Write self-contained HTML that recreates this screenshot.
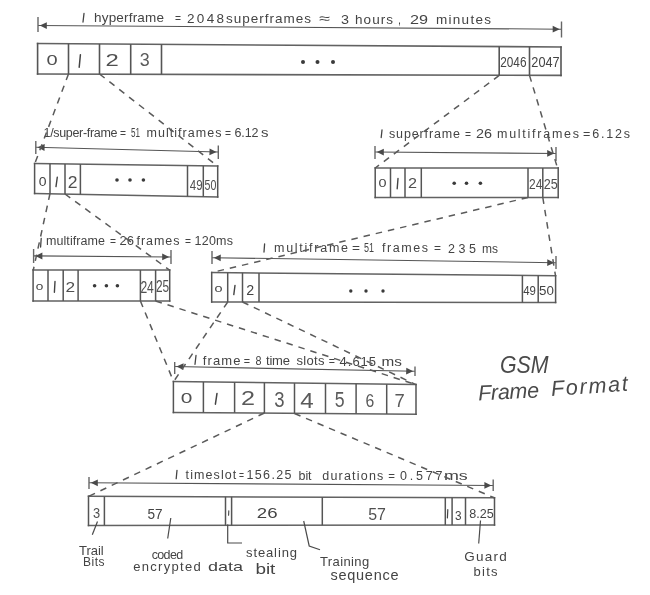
<!DOCTYPE html>
<html><head><meta charset="utf-8"><style>
html,body{margin:0;padding:0;background:#fff;}
body{width:650px;height:595px;overflow:hidden;}
svg{display:block;filter:grayscale(1);}
text{font-family:"Liberation Sans",sans-serif;}
</style></head><body>
<svg width="650" height="595" viewBox="0 0 650 595">
<rect width="650" height="595" fill="#fff"/>
<line x1="84" y1="13.5" x2="83" y2="22" stroke="#444444" stroke-width="1.3" stroke-linecap="round"/>
<text x="94" y="22" font-size="13.5" fill="#444444" font-style="normal" font-weight="normal" text-anchor="start" textLength="70" lengthAdjust="spacing" font-family="Liberation Sans">hyperframe</text>
<text x="175" y="22" font-size="13.5" fill="#444444" font-style="normal" font-weight="normal" text-anchor="start" textLength="6" lengthAdjust="spacingAndGlyphs" font-family="Liberation Sans">=</text>
<text x="187" y="22.5" font-size="13.5" fill="#444444" font-style="normal" font-weight="normal" text-anchor="start" textLength="37" lengthAdjust="spacing" font-family="Liberation Sans">2048</text>
<text x="226" y="22.5" font-size="13.5" fill="#444444" font-style="normal" font-weight="normal" text-anchor="start" textLength="85" lengthAdjust="spacing" font-family="Liberation Sans">superframes</text>
<text x="319" y="23" font-size="13.5" fill="#444444" font-style="normal" font-weight="normal" text-anchor="start" textLength="11" lengthAdjust="spacingAndGlyphs" font-family="Liberation Sans">≈</text>
<text x="341" y="23.5" font-size="13.5" fill="#444444" font-style="normal" font-weight="normal" text-anchor="start" textLength="8" lengthAdjust="spacingAndGlyphs" font-family="Liberation Sans">3</text>
<text x="355" y="23.5" font-size="13.5" fill="#444444" font-style="normal" font-weight="normal" text-anchor="start" textLength="38" lengthAdjust="spacing" font-family="Liberation Sans">hours</text>
<text x="398" y="24" font-size="13.5" fill="#444444" font-style="normal" font-weight="normal" text-anchor="start" textLength="3" lengthAdjust="spacingAndGlyphs" font-family="Liberation Sans">,</text>
<text x="410" y="24" font-size="13.5" fill="#444444" font-style="normal" font-weight="normal" text-anchor="start" textLength="18" lengthAdjust="spacingAndGlyphs" font-family="Liberation Sans">29</text>
<text x="436" y="24" font-size="13.5" fill="#444444" font-style="normal" font-weight="normal" text-anchor="start" textLength="55" lengthAdjust="spacing" font-family="Liberation Sans">minutes</text>
<line x1="38" y1="25.5" x2="561.5" y2="29.2" stroke="#555" stroke-width="1.1"/>
<line x1="38" y1="17" x2="38" y2="32" stroke="#666" stroke-width="1.4"/>
<line x1="561.5" y1="21.5" x2="561.5" y2="37.5" stroke="#666" stroke-width="1.4"/>
<path d="M39.8,25.5 L46.8,22.2 L46.8,29.0 Z" fill="#4a4a4a"/>
<path d="M559.7,29.2 L552.7,32.5 L552.7,25.7 Z" fill="#4a4a4a"/>
<path d="M37.6,43.5 L561,47 M37.6,74 L561,75.4" fill="none" stroke="#626262" stroke-width="1.6" stroke-linecap="square"/>
<path d="M37.6,43.5 L37.6,74 M561,47 L561,75.4" fill="none" stroke="#555555" stroke-width="1.6" stroke-linecap="square"/>
<line x1="68.5" y1="43.71" x2="68.5" y2="74.08" stroke="#555555" stroke-width="1.6"/>
<line x1="99.5" y1="43.91" x2="99.5" y2="74.17" stroke="#555555" stroke-width="1.6"/>
<line x1="130.7" y1="44.12" x2="130.7" y2="74.25" stroke="#555555" stroke-width="1.6"/>
<line x1="161.5" y1="44.33" x2="161.5" y2="74.33" stroke="#555555" stroke-width="1.6"/>
<line x1="499.2" y1="46.59" x2="499.2" y2="75.23" stroke="#555555" stroke-width="1.6"/>
<line x1="529.5" y1="46.79" x2="529.5" y2="75.32" stroke="#555555" stroke-width="1.6"/>
<text x="46.42" y="65.05" font-size="14.83" fill="#505050" font-style="normal" textLength="11.15" lengthAdjust="spacingAndGlyphs" font-family="Liberation Sans">0</text>
<line x1="80.4" y1="54.7" x2="79.2" y2="67.2" stroke="#444444" stroke-width="1.5" stroke-linecap="round"/>
<text x="105.50" y="65.80" font-size="16.62" fill="#505050" font-style="normal" textLength="13.29" lengthAdjust="spacingAndGlyphs" font-family="Liberation Sans">2</text>
<text x="139.82" y="66.32" font-size="18.36" fill="#5a5a5a" font-style="normal" textLength="9.95" lengthAdjust="spacingAndGlyphs" font-family="Liberation Sans">3</text>
<text x="500.21" y="66.86" font-size="14.12" fill="#444" font-style="normal" textLength="26.31" lengthAdjust="spacingAndGlyphs" font-family="Liberation Sans">2046</text>
<text x="531.36" y="66.86" font-size="14.12" fill="#444" font-style="normal" textLength="28.28" lengthAdjust="spacingAndGlyphs" font-family="Liberation Sans">2047</text>
<circle cx="303" cy="62" r="2" fill="#3a3a3a"/>
<circle cx="317.5" cy="62" r="2" fill="#3a3a3a"/>
<circle cx="333" cy="62" r="2" fill="#3a3a3a"/>
<text x="43.5" y="137" font-size="12.5" fill="#444444" font-style="normal" font-weight="normal" text-anchor="start" textLength="74" lengthAdjust="spacing" font-family="Liberation Sans">1/super-frame</text>
<text x="120" y="137" font-size="12.5" fill="#444444" font-style="normal" font-weight="normal" text-anchor="start" textLength="6" lengthAdjust="spacingAndGlyphs" font-family="Liberation Sans">=</text>
<text x="131" y="137" font-size="12.5" fill="#444444" font-style="normal" font-weight="normal" text-anchor="start" textLength="9" lengthAdjust="spacingAndGlyphs" font-family="Liberation Sans">51</text>
<text x="146.5" y="137" font-size="12.5" fill="#444444" font-style="normal" font-weight="normal" text-anchor="start" textLength="75" lengthAdjust="spacing" font-family="Liberation Sans">multiframes</text>
<text x="225" y="137" font-size="12.5" fill="#444444" font-style="normal" font-weight="normal" text-anchor="start" textLength="6" lengthAdjust="spacingAndGlyphs" font-family="Liberation Sans">=</text>
<text x="234.5" y="137" font-size="12.5" fill="#444444" font-style="normal" font-weight="normal" text-anchor="start" textLength="24" lengthAdjust="spacing" font-family="Liberation Sans">6.12</text>
<text x="261" y="137" font-size="12.5" fill="#444444" font-style="normal" font-weight="normal" text-anchor="start" textLength="7.5" lengthAdjust="spacingAndGlyphs" font-family="Liberation Sans">s</text>
<line x1="35.8" y1="147.3" x2="218.3" y2="152" stroke="#555" stroke-width="1.1"/>
<line x1="35.8" y1="141" x2="35.8" y2="154" stroke="#666" stroke-width="1.4"/>
<line x1="218.3" y1="145.5" x2="218.3" y2="159" stroke="#666" stroke-width="1.4"/>
<path d="M37.6,147.3 L44.7,144.1 L44.5,150.9 Z" fill="#4a4a4a"/>
<path d="M216.5,152.0 L209.4,155.2 L209.6,148.4 Z" fill="#4a4a4a"/>
<path d="M34.6,163.6 L217.7,166.1 M34.6,193.4 L217.7,196.9" fill="none" stroke="#626262" stroke-width="1.5" stroke-linecap="square"/>
<path d="M34.6,163.6 L34.6,193.4 M217.7,166.1 L217.7,196.9" fill="none" stroke="#555555" stroke-width="1.5" stroke-linecap="square"/>
<line x1="50" y1="163.81" x2="50" y2="193.69" stroke="#555555" stroke-width="1.5"/>
<line x1="65" y1="164.02" x2="65" y2="193.98" stroke="#555555" stroke-width="1.5"/>
<line x1="80.4" y1="164.23" x2="80.4" y2="194.28" stroke="#555555" stroke-width="1.5"/>
<line x1="187.5" y1="165.69" x2="187.5" y2="196.32" stroke="#555555" stroke-width="1.5"/>
<line x1="203.3" y1="165.9" x2="203.3" y2="196.62" stroke="#555555" stroke-width="1.5"/>
<text x="38.65" y="186.27" font-size="13.28" fill="#444" font-style="normal" textLength="7.78" lengthAdjust="spacingAndGlyphs" font-family="Liberation Sans">0</text>
<line x1="57.3" y1="177.2" x2="56" y2="186.6" stroke="#444444" stroke-width="1.4" stroke-linecap="round"/>
<text x="67.82" y="187.60" font-size="15.90" fill="#505050" font-style="normal" textLength="9.76" lengthAdjust="spacingAndGlyphs" font-family="Liberation Sans">2</text>
<text x="189.75" y="190.35" font-size="14.83" fill="#505050" font-style="normal" textLength="12.80" lengthAdjust="spacingAndGlyphs" font-family="Liberation Sans">49</text>
<text x="204.57" y="190.35" font-size="14.83" fill="#505050" font-style="normal" textLength="11.83" lengthAdjust="spacingAndGlyphs" font-family="Liberation Sans">50</text>
<circle cx="117" cy="180" r="1.8" fill="#3a3a3a"/>
<circle cx="130" cy="180" r="1.8" fill="#3a3a3a"/>
<circle cx="143.4" cy="180" r="1.8" fill="#3a3a3a"/>
<line x1="382" y1="130" x2="381.2" y2="137.5" stroke="#444444" stroke-width="1.3" stroke-linecap="round"/>
<text x="389" y="137.5" font-size="12.5" fill="#444444" font-style="normal" font-weight="normal" text-anchor="start" textLength="71" lengthAdjust="spacing" font-family="Liberation Sans">superframe</text>
<text x="465" y="137.5" font-size="12.5" fill="#444444" font-style="normal" font-weight="normal" text-anchor="start" textLength="6" lengthAdjust="spacingAndGlyphs" font-family="Liberation Sans">=</text>
<text x="476" y="137.5" font-size="12.5" fill="#444444" font-style="normal" font-weight="normal" text-anchor="start" textLength="16" lengthAdjust="spacingAndGlyphs" font-family="Liberation Sans">26</text>
<text x="497" y="137.5" font-size="12.5" fill="#444444" font-style="normal" font-weight="normal" text-anchor="start" textLength="82" lengthAdjust="spacing" font-family="Liberation Sans">multiframes</text>
<text x="583" y="137.5" font-size="12.5" fill="#444444" font-style="normal" font-weight="normal" text-anchor="start" textLength="47" lengthAdjust="spacing" font-family="Liberation Sans">=6.12s</text>
<line x1="375" y1="152" x2="556" y2="153.5" stroke="#555" stroke-width="1.1"/>
<line x1="375" y1="146" x2="375" y2="159" stroke="#666" stroke-width="1.4"/>
<line x1="556" y1="147" x2="556" y2="161" stroke="#666" stroke-width="1.4"/>
<path d="M376.8,152.0 L383.8,148.7 L383.8,155.5 Z" fill="#4a4a4a"/>
<path d="M554.2,153.5 L547.2,156.8 L547.2,150.0 Z" fill="#4a4a4a"/>
<path d="M375.2,167.9 L558.2,168 M375.2,197.5 L558.2,197.5" fill="none" stroke="#626262" stroke-width="1.5" stroke-linecap="square"/>
<path d="M375.2,167.9 L375.2,197.5 M558.2,168 L558.2,197.5" fill="none" stroke="#555555" stroke-width="1.5" stroke-linecap="square"/>
<line x1="390.5" y1="167.91" x2="390.5" y2="197.5" stroke="#555555" stroke-width="1.5"/>
<line x1="405" y1="167.92" x2="405" y2="197.5" stroke="#555555" stroke-width="1.5"/>
<line x1="421.3" y1="167.93" x2="421.3" y2="197.5" stroke="#555555" stroke-width="1.5"/>
<line x1="528" y1="167.98" x2="528" y2="197.5" stroke="#555555" stroke-width="1.5"/>
<line x1="542.8" y1="167.99" x2="542.8" y2="197.5" stroke="#555555" stroke-width="1.5"/>
<text x="378.44" y="187.39" font-size="11.44" fill="#444" font-style="normal" textLength="8.01" lengthAdjust="spacingAndGlyphs" font-family="Liberation Sans">0</text>
<line x1="398" y1="178.5" x2="397.2" y2="188.8" stroke="#444444" stroke-width="1.4" stroke-linecap="round"/>
<text x="407.99" y="188.20" font-size="15.33" fill="#505050" font-style="normal" textLength="9.03" lengthAdjust="spacingAndGlyphs" font-family="Liberation Sans">2</text>
<text x="529.00" y="188.80" font-size="15.47" fill="#505050" font-style="normal" textLength="13.35" lengthAdjust="spacingAndGlyphs" font-family="Liberation Sans">24</text>
<text x="543.77" y="188.65" font-size="15.25" fill="#505050" font-style="normal" textLength="14.05" lengthAdjust="spacingAndGlyphs" font-family="Liberation Sans">25</text>
<circle cx="454.2" cy="183.3" r="1.8" fill="#3a3a3a"/>
<circle cx="466.5" cy="183.3" r="1.8" fill="#3a3a3a"/>
<circle cx="480.4" cy="183.3" r="1.8" fill="#3a3a3a"/>
<line x1="41.2" y1="238.5" x2="40.6" y2="247" stroke="#444444" stroke-width="1.3" stroke-linecap="round"/>
<text x="46" y="245" font-size="12.5" fill="#444444" font-style="normal" font-weight="normal" text-anchor="start" textLength="59" lengthAdjust="spacing" font-family="Liberation Sans">multiframe</text>
<text x="110" y="245" font-size="12.5" fill="#444444" font-style="normal" font-weight="normal" text-anchor="start" textLength="6" lengthAdjust="spacingAndGlyphs" font-family="Liberation Sans">=</text>
<text x="119.5" y="244.5" font-size="12.5" fill="#444444" font-style="normal" font-weight="normal" text-anchor="start" textLength="14.5" lengthAdjust="spacingAndGlyphs" font-family="Liberation Sans">26</text>
<text x="136.5" y="244.5" font-size="12.5" fill="#444444" font-style="normal" font-weight="normal" text-anchor="start" textLength="43" lengthAdjust="spacing" font-family="Liberation Sans">frames</text>
<text x="185" y="244.5" font-size="12.5" fill="#444444" font-style="normal" font-weight="normal" text-anchor="start" textLength="6" lengthAdjust="spacingAndGlyphs" font-family="Liberation Sans">=</text>
<text x="194.5" y="244.5" font-size="12.5" fill="#444444" font-style="normal" font-weight="normal" text-anchor="start" textLength="38.5" lengthAdjust="spacing" font-family="Liberation Sans">120ms</text>
<line x1="33.6" y1="255.9" x2="171" y2="257" stroke="#555" stroke-width="1.1"/>
<line x1="33.6" y1="249" x2="33.6" y2="263" stroke="#666" stroke-width="1.4"/>
<line x1="171" y1="250" x2="171" y2="264" stroke="#666" stroke-width="1.4"/>
<path d="M35.4,255.9 L42.4,252.6 L42.4,259.4 Z" fill="#4a4a4a"/>
<path d="M169.2,257.0 L162.2,260.3 L162.2,253.5 Z" fill="#4a4a4a"/>
<path d="M33.1,270 L169.7,270 M33.1,300.9 L169.7,300.9" fill="none" stroke="#626262" stroke-width="1.5" stroke-linecap="square"/>
<path d="M33.1,270 L33.1,300.9 M169.7,270 L169.7,300.9" fill="none" stroke="#555555" stroke-width="1.5" stroke-linecap="square"/>
<line x1="48" y1="270.0" x2="48" y2="300.9" stroke="#555555" stroke-width="1.5"/>
<line x1="63.2" y1="270.0" x2="63.2" y2="300.9" stroke="#555555" stroke-width="1.5"/>
<line x1="78.1" y1="270.0" x2="78.1" y2="300.9" stroke="#555555" stroke-width="1.5"/>
<line x1="140.4" y1="270.0" x2="140.4" y2="300.9" stroke="#555555" stroke-width="1.5"/>
<line x1="155.6" y1="270.0" x2="155.6" y2="300.9" stroke="#555555" stroke-width="1.5"/>
<text x="35.77" y="289.90" font-size="9.89" fill="#444" font-style="normal" textLength="7.55" lengthAdjust="spacingAndGlyphs" font-family="Liberation Sans">0</text>
<line x1="55" y1="281.5" x2="54.4" y2="292.3" stroke="#444444" stroke-width="1.4" stroke-linecap="round"/>
<text x="65.43" y="292.00" font-size="15.47" fill="#505050" font-style="normal" textLength="9.64" lengthAdjust="spacingAndGlyphs" font-family="Liberation Sans">2</text>
<text x="140.39" y="292.50" font-size="16.05" fill="#505050" font-style="normal" textLength="13.46" lengthAdjust="spacingAndGlyphs" font-family="Liberation Sans">24</text>
<text x="156.01" y="292.34" font-size="15.82" fill="#505050" font-style="normal" textLength="13.18" lengthAdjust="spacingAndGlyphs" font-family="Liberation Sans">25</text>
<circle cx="94.6" cy="285.7" r="1.8" fill="#3a3a3a"/>
<circle cx="106.4" cy="285.7" r="1.8" fill="#3a3a3a"/>
<circle cx="117.4" cy="285.7" r="1.8" fill="#3a3a3a"/>
<line x1="264.6" y1="244" x2="264" y2="252" stroke="#444444" stroke-width="1.3" stroke-linecap="round"/>
<text x="274" y="252" font-size="12.5" fill="#444444" font-style="normal" font-weight="normal" text-anchor="start" textLength="74" lengthAdjust="spacing" font-family="Liberation Sans">multiframe</text>
<text x="352" y="252" font-size="12.5" fill="#444444" font-style="normal" font-weight="normal" text-anchor="start" textLength="8" lengthAdjust="spacingAndGlyphs" font-family="Liberation Sans">=</text>
<text x="364" y="252" font-size="12.5" fill="#444444" font-style="normal" font-weight="normal" text-anchor="start" textLength="10" lengthAdjust="spacingAndGlyphs" font-family="Liberation Sans">51</text>
<text x="382" y="252" font-size="12.5" fill="#444444" font-style="normal" font-weight="normal" text-anchor="start" textLength="46" lengthAdjust="spacing" font-family="Liberation Sans">frames</text>
<text x="434" y="252" font-size="12.5" fill="#444444" font-style="normal" font-weight="normal" text-anchor="start" textLength="7" lengthAdjust="spacingAndGlyphs" font-family="Liberation Sans">=</text>
<text x="448" y="252.5" font-size="12.5" fill="#444444" font-style="normal" font-weight="normal" text-anchor="start" textLength="28" lengthAdjust="spacing" font-family="Liberation Sans">235</text>
<text x="482" y="252.5" font-size="12.5" fill="#444444" font-style="normal" font-weight="normal" text-anchor="start" textLength="16" lengthAdjust="spacingAndGlyphs" font-family="Liberation Sans">ms</text>
<line x1="212" y1="257.7" x2="556" y2="262.7" stroke="#555" stroke-width="1.1"/>
<line x1="212" y1="251" x2="212" y2="264" stroke="#666" stroke-width="1.4"/>
<line x1="556" y1="256" x2="556" y2="269" stroke="#666" stroke-width="1.4"/>
<path d="M213.8,257.7 L220.8,254.4 L220.7,261.2 Z" fill="#4a4a4a"/>
<path d="M554.2,262.7 L547.2,266.0 L547.3,259.2 Z" fill="#4a4a4a"/>
<path d="M211.7,272.5 L555.6,275.7 M211.7,302 L555.6,302.6" fill="none" stroke="#626262" stroke-width="1.5" stroke-linecap="square"/>
<path d="M211.7,272.5 L211.7,302 M555.6,275.7 L555.6,302.6" fill="none" stroke="#555555" stroke-width="1.5" stroke-linecap="square"/>
<line x1="227.7" y1="272.65" x2="227.7" y2="302.03" stroke="#555555" stroke-width="1.5"/>
<line x1="242.5" y1="272.79" x2="242.5" y2="302.05" stroke="#555555" stroke-width="1.5"/>
<line x1="259" y1="272.94" x2="259" y2="302.08" stroke="#555555" stroke-width="1.5"/>
<line x1="522.4" y1="275.39" x2="522.4" y2="302.54" stroke="#555555" stroke-width="1.5"/>
<line x1="538.2" y1="275.54" x2="538.2" y2="302.57" stroke="#555555" stroke-width="1.5"/>
<text x="214.64" y="291.70" font-size="9.75" fill="#444" font-style="normal" textLength="8.01" lengthAdjust="spacingAndGlyphs" font-family="Liberation Sans">0</text>
<line x1="235" y1="285.4" x2="233.8" y2="294.6" stroke="#444444" stroke-width="1.4" stroke-linecap="round"/>
<text x="246.29" y="294.50" font-size="14.47" fill="#444" font-style="normal" textLength="7.93" lengthAdjust="spacingAndGlyphs" font-family="Liberation Sans">2</text>
<text x="523.25" y="294.86" font-size="13.56" fill="#444" font-style="normal" textLength="12.69" lengthAdjust="spacingAndGlyphs" font-family="Liberation Sans">49</text>
<text x="539.07" y="294.86" font-size="13.56" fill="#444" font-style="normal" textLength="14.85" lengthAdjust="spacingAndGlyphs" font-family="Liberation Sans">50</text>
<circle cx="350.8" cy="291" r="1.7" fill="#3a3a3a"/>
<circle cx="366" cy="291" r="1.7" fill="#3a3a3a"/>
<circle cx="383" cy="291" r="1.7" fill="#3a3a3a"/>
<line x1="196" y1="355.5" x2="195" y2="364.3" stroke="#444444" stroke-width="1.3" stroke-linecap="round"/>
<text x="202.7" y="364.5" font-size="13" fill="#444444" font-style="normal" font-weight="normal" text-anchor="start" textLength="37.7" lengthAdjust="spacing" font-family="Liberation Sans">frame</text>
<text x="243.7" y="364.5" font-size="13" fill="#444444" font-style="normal" font-weight="normal" text-anchor="start" textLength="6.3" lengthAdjust="spacingAndGlyphs" font-family="Liberation Sans">=</text>
<text x="255.5" y="364.5" font-size="13" fill="#444444" font-style="normal" font-weight="normal" text-anchor="start" textLength="6" lengthAdjust="spacingAndGlyphs" font-family="Liberation Sans">8</text>
<text x="266" y="364.5" font-size="13" fill="#444444" font-style="normal" font-weight="normal" text-anchor="start" textLength="24" lengthAdjust="spacing" font-family="Liberation Sans">time</text>
<text x="296.5" y="365" font-size="13" fill="#444444" font-style="normal" font-weight="normal" text-anchor="start" textLength="28" lengthAdjust="spacing" font-family="Liberation Sans">slots</text>
<text x="328.8" y="365" font-size="13" fill="#444444" font-style="normal" font-weight="normal" text-anchor="start" textLength="6.2" lengthAdjust="spacingAndGlyphs" font-family="Liberation Sans">=</text>
<text x="339.6" y="365.5" font-size="13" fill="#444444" font-style="normal" font-weight="normal" text-anchor="start" textLength="36.4" lengthAdjust="spacing" font-family="Liberation Sans">4.615</text>
<text x="381.6" y="365.5" font-size="13" fill="#444444" font-style="normal" font-weight="normal" text-anchor="start" textLength="20.4" lengthAdjust="spacingAndGlyphs" font-family="Liberation Sans">ms</text>
<line x1="174.7" y1="366.5" x2="415" y2="371.3" stroke="#555" stroke-width="1.1"/>
<line x1="174.7" y1="362" x2="174.7" y2="374" stroke="#666" stroke-width="1.4"/>
<line x1="415" y1="366.5" x2="415" y2="376" stroke="#666" stroke-width="1.4"/>
<path d="M176.5,366.5 L183.6,363.3 L183.4,370.1 Z" fill="#4a4a4a"/>
<path d="M413.2,371.3 L406.1,374.5 L406.3,367.7 Z" fill="#4a4a4a"/>
<path d="M173.4,381.6 L416,384.6 M173.4,412.4 L416,414.2" fill="none" stroke="#626262" stroke-width="1.5" stroke-linecap="square"/>
<path d="M173.4,381.6 L173.4,412.4 M416,384.6 L416,414.2" fill="none" stroke="#555555" stroke-width="1.5" stroke-linecap="square"/>
<line x1="203.4" y1="381.97" x2="203.4" y2="412.62" stroke="#555555" stroke-width="1.5"/>
<line x1="234.6" y1="382.36" x2="234.6" y2="412.85" stroke="#555555" stroke-width="1.5"/>
<line x1="264.4" y1="382.73" x2="264.4" y2="413.08" stroke="#555555" stroke-width="1.5"/>
<line x1="294.5" y1="383.1" x2="294.5" y2="413.3" stroke="#555555" stroke-width="1.5"/>
<line x1="325.5" y1="383.48" x2="325.5" y2="413.53" stroke="#555555" stroke-width="1.5"/>
<line x1="356.1" y1="383.86" x2="356.1" y2="413.76" stroke="#555555" stroke-width="1.5"/>
<line x1="386.7" y1="384.24" x2="386.7" y2="413.98" stroke="#555555" stroke-width="1.5"/>
<line x1="217" y1="393.4" x2="215.4" y2="404.2" stroke="#444444" stroke-width="1.5" stroke-linecap="round"/>
<text x="180.69" y="403.25" font-size="15.25" fill="#505050" font-style="normal" textLength="11.61" lengthAdjust="spacingAndGlyphs" font-family="Liberation Sans">0</text>
<text x="241.04" y="405.40" font-size="19.91" fill="#5a5a5a" font-style="normal" textLength="14.03" lengthAdjust="spacingAndGlyphs" font-family="Liberation Sans">2</text>
<text x="274.30" y="406.98" font-size="22.18" fill="#5a5a5a" font-style="normal" textLength="10.30" lengthAdjust="spacingAndGlyphs" font-family="Liberation Sans">3</text>
<text x="300.27" y="408.00" font-size="21.22" fill="#5a5a5a" font-style="normal" textLength="13.44" lengthAdjust="spacingAndGlyphs" font-family="Liberation Sans">4</text>
<text x="334.69" y="407.29" font-size="21.35" fill="#5a5a5a" font-style="normal" textLength="9.84" lengthAdjust="spacingAndGlyphs" font-family="Liberation Sans">5</text>
<text x="365.41" y="407.32" font-size="17.66" fill="#5a5a5a" font-style="normal" textLength="8.77" lengthAdjust="spacingAndGlyphs" font-family="Liberation Sans">6</text>
<text x="394.46" y="407.00" font-size="17.44" fill="#5a5a5a" font-style="normal" textLength="10.27" lengthAdjust="spacingAndGlyphs" font-family="Liberation Sans">7</text>
<line x1="177" y1="470.3" x2="176.2" y2="478.7" stroke="#444444" stroke-width="1.3" stroke-linecap="round"/>
<text x="185.6" y="479" font-size="12.5" fill="#444444" font-style="normal" font-weight="normal" text-anchor="start" textLength="50.7" lengthAdjust="spacing" font-family="Liberation Sans">timeslot</text>
<text x="239" y="479" font-size="12.5" fill="#444444" font-style="normal" font-weight="normal" text-anchor="start" textLength="5" lengthAdjust="spacingAndGlyphs" font-family="Liberation Sans">=</text>
<text x="246.5" y="479" font-size="12.5" fill="#444444" font-style="normal" font-weight="normal" text-anchor="start" textLength="45" lengthAdjust="spacing" font-family="Liberation Sans">156.25</text>
<text x="298.6" y="479.5" font-size="12.5" fill="#444444" font-style="normal" font-weight="normal" text-anchor="start" textLength="13" lengthAdjust="spacing" font-family="Liberation Sans">bit</text>
<text x="322.3" y="479.5" font-size="12.5" fill="#444444" font-style="normal" font-weight="normal" text-anchor="start" textLength="61" lengthAdjust="spacing" font-family="Liberation Sans">durations</text>
<text x="388.3" y="479.5" font-size="12.5" fill="#444444" font-style="normal" font-weight="normal" text-anchor="start" textLength="6.7" lengthAdjust="spacingAndGlyphs" font-family="Liberation Sans">=</text>
<text x="400" y="480" font-size="12.5" fill="#444444" font-style="normal" font-weight="normal" text-anchor="start" textLength="42.4" lengthAdjust="spacing" font-family="Liberation Sans">0.577</text>
<text x="444" y="480" font-size="12.5" fill="#444444" font-style="normal" font-weight="normal" text-anchor="start" textLength="23.8" lengthAdjust="spacingAndGlyphs" font-family="Liberation Sans">ms</text>
<line x1="89" y1="482.7" x2="493.2" y2="485.5" stroke="#555" stroke-width="1.1"/>
<line x1="89" y1="477" x2="89" y2="489" stroke="#666" stroke-width="1.4"/>
<line x1="493.2" y1="479.5" x2="493.2" y2="491" stroke="#666" stroke-width="1.4"/>
<path d="M90.8,482.7 L97.8,479.4 L97.8,486.2 Z" fill="#4a4a4a"/>
<path d="M491.4,485.5 L484.4,488.8 L484.4,482.0 Z" fill="#4a4a4a"/>
<path d="M88.5,496.3 L494.5,497.8 M88.5,525.4 L494.5,525" fill="none" stroke="#626262" stroke-width="1.5" stroke-linecap="square"/>
<path d="M88.5,496.3 L88.5,525.4 M494.5,497.8 L494.5,525" fill="none" stroke="#555555" stroke-width="1.5" stroke-linecap="square"/>
<line x1="104.4" y1="496.36" x2="104.4" y2="525.38" stroke="#555555" stroke-width="1.5"/>
<line x1="225.5" y1="496.81" x2="225.5" y2="525.27" stroke="#555555" stroke-width="1.5"/>
<line x1="231.6" y1="496.83" x2="231.6" y2="525.26" stroke="#555555" stroke-width="1.5"/>
<line x1="322.3" y1="497.16" x2="322.3" y2="525.17" stroke="#555555" stroke-width="1.5"/>
<line x1="445.3" y1="497.62" x2="445.3" y2="525.05" stroke="#555555" stroke-width="1.5"/>
<line x1="452.1" y1="497.64" x2="452.1" y2="525.04" stroke="#555555" stroke-width="1.5"/>
<line x1="465.5" y1="497.69" x2="465.5" y2="525.03" stroke="#555555" stroke-width="1.5"/>
<text x="93.01" y="518.35" font-size="15.25" fill="#505050" font-style="normal" textLength="7.14" lengthAdjust="spacingAndGlyphs" font-family="Liberation Sans">3</text>
<text x="147.46" y="519.06" font-size="14.33" fill="#444" font-style="normal" textLength="15.13" lengthAdjust="spacingAndGlyphs" font-family="Liberation Sans">57</text>
<line x1="228.8" y1="510.7" x2="228.6" y2="515.2" stroke="#444444" stroke-width="1.1" stroke-linecap="round"/>
<text x="256.87" y="517.86" font-size="14.12" fill="#444" font-style="normal" textLength="20.74" lengthAdjust="spacingAndGlyphs" font-family="Liberation Sans">26</text>
<text x="368.16" y="519.94" font-size="15.90" fill="#505050" font-style="normal" textLength="17.74" lengthAdjust="spacingAndGlyphs" font-family="Liberation Sans">57</text>
<line x1="447.8" y1="509.6" x2="447.4" y2="517.9" stroke="#444444" stroke-width="1.2" stroke-linecap="round"/>
<text x="454.95" y="519.56" font-size="13.70" fill="#444" font-style="normal" textLength="6.56" lengthAdjust="spacingAndGlyphs" font-family="Liberation Sans">3</text>
<text x="469.36" y="517.77" font-size="12.57" fill="#444" font-style="normal" textLength="24.46" lengthAdjust="spacingAndGlyphs" font-family="Liberation Sans">8.25</text>
<path d="M97.5,521.5 L92.3,534.8" fill="none" stroke="#4a4a4a" stroke-width="1.2"/>
<path d="M170.8,518 L167.7,538.5" fill="none" stroke="#4a4a4a" stroke-width="1.2"/>
<path d="M227.7,524.6 L227.7,543 L242,543" fill="none" stroke="#4a4a4a" stroke-width="1.2"/>
<path d="M303.7,521 L309.2,546 L320,549.8" fill="none" stroke="#4a4a4a" stroke-width="1.2"/>
<path d="M480.5,520.5 L478.7,543.5" fill="none" stroke="#4a4a4a" stroke-width="1.2"/>
<text x="79" y="554.5" font-size="13" fill="#444444" font-style="normal" font-weight="normal" text-anchor="start" textLength="24.7" lengthAdjust="spacing" font-family="Liberation Sans">Trail</text>
<text x="83" y="566" font-size="12" fill="#444444" font-style="normal" font-weight="normal" text-anchor="start" textLength="21.6" lengthAdjust="spacing" font-family="Liberation Sans">Bits</text>
<text x="151.7" y="558.5" font-size="12.5" fill="#444444" font-style="normal" font-weight="normal" text-anchor="start" textLength="31.5" lengthAdjust="spacing" font-family="Liberation Sans">coded</text>
<text x="133.3" y="571.4" font-size="13" fill="#444444" font-style="normal" font-weight="normal" text-anchor="start" textLength="67.4" lengthAdjust="spacing" font-family="Liberation Sans">encrypted</text>
<text x="208" y="571.4" font-size="13.5" fill="#444444" font-style="normal" font-weight="normal" text-anchor="start" textLength="35" lengthAdjust="spacingAndGlyphs" font-family="Liberation Sans">data</text>
<text x="246" y="556.5" font-size="13" fill="#444444" font-style="normal" font-weight="normal" text-anchor="start" textLength="51" lengthAdjust="spacing" font-family="Liberation Sans">stealing</text>
<text x="255.4" y="573.5" font-size="14.5" fill="#444444" font-style="normal" font-weight="normal" text-anchor="start" textLength="20" lengthAdjust="spacingAndGlyphs" font-family="Liberation Sans">bit</text>
<text x="320" y="565.8" font-size="13" fill="#444444" font-style="normal" font-weight="normal" text-anchor="start" textLength="49.2" lengthAdjust="spacing" font-family="Liberation Sans">Training</text>
<text x="330.5" y="580.4" font-size="14.5" fill="#444444" font-style="normal" font-weight="normal" text-anchor="start" textLength="68" lengthAdjust="spacing" font-family="Liberation Sans">sequence</text>
<text x="464.3" y="561" font-size="13.5" fill="#444444" font-style="normal" font-weight="normal" text-anchor="start" textLength="42.5" lengthAdjust="spacing" font-family="Liberation Sans">Guard</text>
<text x="473.5" y="575.5" font-size="13" fill="#444444" font-style="normal" font-weight="normal" text-anchor="start" textLength="24" lengthAdjust="spacing" font-family="Liberation Sans">bits</text>
<text x="500" y="372.5" font-size="24" fill="#4a4a4a" font-style="italic" font-weight="normal" text-anchor="start" textLength="48.6" lengthAdjust="spacingAndGlyphs" font-family="Liberation Sans">GSM</text>
<text x="478.5" y="400.5" font-size="21.5" fill="#4a4a4a" font-style="italic" font-weight="normal" text-anchor="start" textLength="61" lengthAdjust="spacing" transform="rotate(-3 478.5 400.5)" font-family="Liberation Sans">Frame</text>
<text x="551.4" y="396" font-size="21.5" fill="#4a4a4a" font-style="italic" font-weight="normal" text-anchor="start" textLength="77" lengthAdjust="spacing" transform="rotate(-4 551.4 396)" font-family="Liberation Sans">Format</text>
<path d="M68.5,74 L35,163" fill="none" stroke="#5a5a5a" stroke-width="1.5" stroke-dasharray="6.5 6"/>
<path d="M99.5,74 L217.5,166" fill="none" stroke="#5a5a5a" stroke-width="1.5" stroke-dasharray="6.5 6"/>
<path d="M499.2,75.4 L375.2,168" fill="none" stroke="#5a5a5a" stroke-width="1.5" stroke-dasharray="6.5 6"/>
<path d="M529.5,75.4 L557.5,168" fill="none" stroke="#5a5a5a" stroke-width="1.5" stroke-dasharray="6.5 6"/>
<path d="M50,193.5 L33.3,270" fill="none" stroke="#5a5a5a" stroke-width="1.5" stroke-dasharray="6.5 6"/>
<path d="M65,194 L169.5,270" fill="none" stroke="#5a5a5a" stroke-width="1.5" stroke-dasharray="6.5 6"/>
<path d="M528,197.5 L211.9,272.5" fill="none" stroke="#5a5a5a" stroke-width="1.5" stroke-dasharray="6.5 6"/>
<path d="M542.8,197.5 L555.5,275.7" fill="none" stroke="#5a5a5a" stroke-width="1.5" stroke-dasharray="6.5 6"/>
<path d="M140.4,301 L173.6,381.6" fill="none" stroke="#5a5a5a" stroke-width="1.5" stroke-dasharray="6.5 6"/>
<path d="M155.6,301 L415.8,384.6" fill="none" stroke="#5a5a5a" stroke-width="1.5" stroke-dasharray="6.5 6"/>
<path d="M227.7,302 L173.6,381.6" fill="none" stroke="#5a5a5a" stroke-width="1.5" stroke-dasharray="6.5 6"/>
<path d="M242.5,302 L415.8,384.6" fill="none" stroke="#5a5a5a" stroke-width="1.5" stroke-dasharray="6.5 6"/>
<path d="M264.4,413 L88.7,496.3" fill="none" stroke="#5a5a5a" stroke-width="1.5" stroke-dasharray="6.5 6"/>
<path d="M294.5,413.5 L494.3,497.8" fill="none" stroke="#5a5a5a" stroke-width="1.5" stroke-dasharray="6.5 6"/>
</svg>
</body></html>
